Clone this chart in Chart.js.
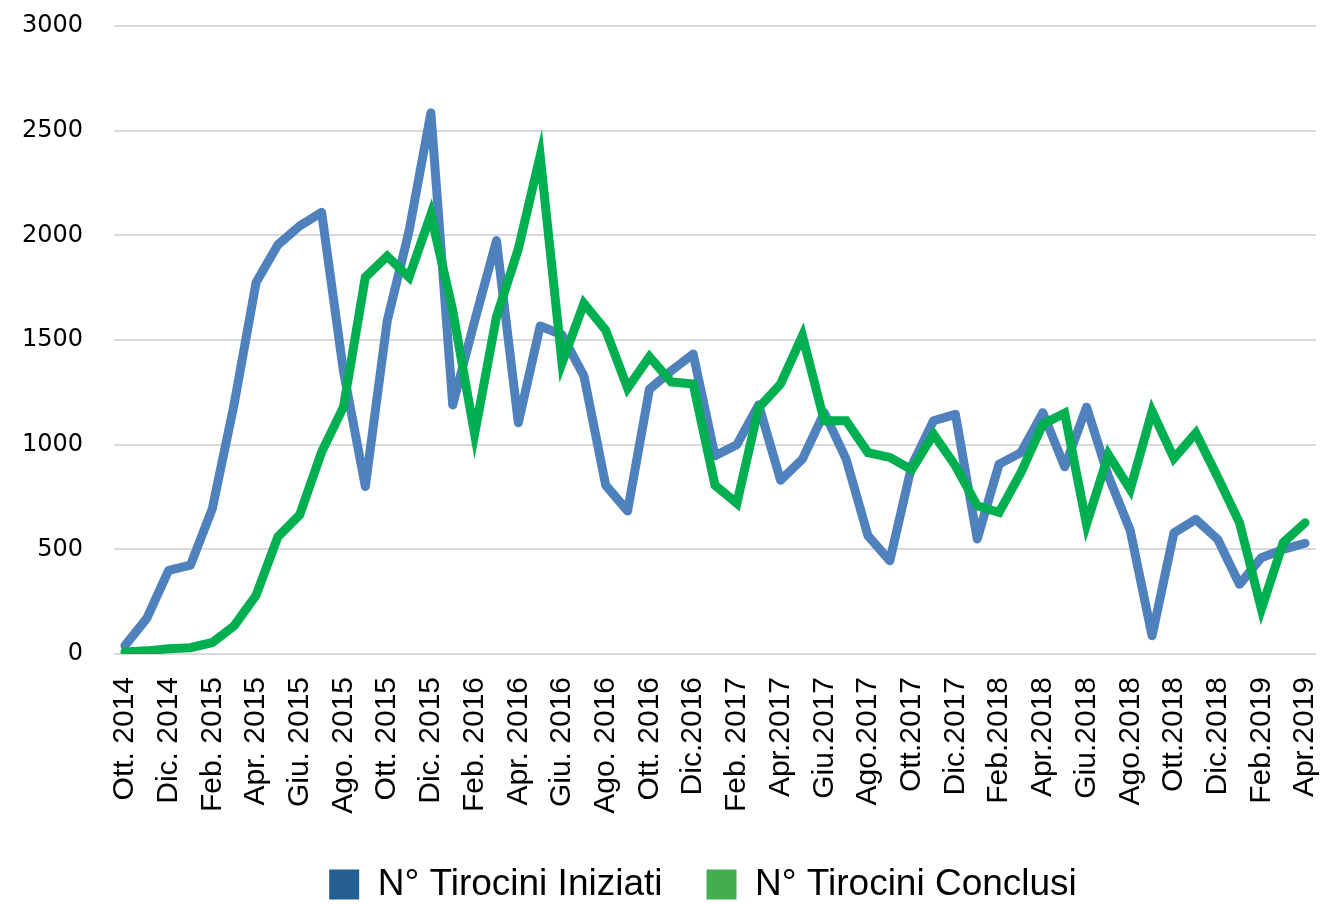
<!DOCTYPE html>
<html>
<head>
<meta charset="utf-8">
<script src="https://cdn.jsdelivr.net/npm/chart.js@4.4.1/dist/chart.umd.min.js"></script>
<style>
  html, body { margin: 0; padding: 0; background: #ffffff; }
  #wrap { width: 1322px; height: 904px; }
</style>
</head>
<body>
<div id="wrap"><canvas id="c" width="1322" height="904"></canvas></div>
<script>
const months = [
  "Ott. 2014","Nov. 2014","Dic. 2014","Gen. 2015","Feb. 2015","Mar. 2015","Apr. 2015","Mag. 2015",
  "Giu. 2015","Lug. 2015","Ago. 2015","Set. 2015","Ott. 2015","Nov. 2015","Dic. 2015","Gen. 2016",
  "Feb. 2016","Mar. 2016","Apr. 2016","Mag. 2016","Giu. 2016","Lug. 2016","Ago. 2016","Set. 2016",
  "Ott. 2016","Nov. 2016","Dic.2016","Gen. 2017","Feb. 2017","Mar.2017","Apr.2017","Mag.2017",
  "Giu.2017","Lug.2017","Ago.2017","Set.2017","Ott.2017","Nov.2017","Dic.2017","Gen.2018",
  "Feb.2018","Mar.2018","Apr.2018","Mag.2018","Giu.2018","Lug.2018","Ago.2018","Set.2018",
  "Ott.2018","Nov.2018","Dic.2018","Gen.2019","Feb.2019","Mar.2019","Apr.2019"
];
const tirociniIniziati = [40,170,400,425,695,1195,1775,1955,2045,2110,1350,800,1590,2020,2585,1190,1590,1975,1105,1567,1525,1329,806,683,1265,1353,1433,947,1000,1190,830,931,1153,931,565,445,899,1114,1145,549,907,962,1153,894,1179,850,590,87,579,643,548,333,460,500,529];
const tirociniConclusi = [10,15,25,30,55,135,280,560,665,965,1180,1800,1900,1800,2100,1640,1050,1610,1935,2380,1390,1675,1547,1270,1420,1300,1290,806,720,1177,1290,1520,1114,1114,962,939,880,1050,899,708,676,867,1098,1150,620,952,786,1160,935,1055,845,627,214,532,627];
const seriesNames = ["N° Tirocini Iniziati", "N° Tirocini Conclusi"];
const yTicks = [0, 500, 1000, 1500, 2000, 2500, 3000];

const lineColors = ["#4F81BD", "#00B050"];
const legendColors = ["#255E91", "#43AE50"];

const legendShift = {
  id: "legendShift",
  afterLayout(chart) { if (chart.legend) { chart.legend.left += 90; } }
};

new Chart(document.getElementById("c"), {
  type: "line",
  plugins: [legendShift],
  data: {
    labels: months,
    datasets: [
      {
        label: seriesNames[0],
        data: tirociniIniziati,
        borderColor: lineColors[0],
        backgroundColor: lineColors[0],
        borderWidth: 9,
        borderJoinStyle: "round",
        borderCapStyle: "round",
        pointRadius: 0,
        tension: 0,
        order: 1
      },
      {
        label: seriesNames[1],
        data: tirociniConclusi,
        borderColor: lineColors[1],
        backgroundColor: lineColors[1],
        borderWidth: 9,
        borderJoinStyle: "miter",
        borderCapStyle: "round",
        pointRadius: 0,
        tension: 0,
        order: 0
      }
    ]
  },
  options: {
    responsive: false,
    animation: false,
    layout: { padding: { top: 26, left: 0, right: 6, bottom: -9 } },
    plugins: {
      tooltip: { enabled: false },
      legend: {
        position: "bottom",
        labels: {
          boxWidth: 30,
          boxHeight: 30,
          padding: 44,
          color: "#000000",
          font: { family: "'Liberation Sans', Arial, sans-serif", size: 37 },
          sort: (a, b) => a.datasetIndex - b.datasetIndex,
          generateLabels: (chart) => chart.data.datasets.map((ds, i) => ({
            text: ds.label,
            fillStyle: legendColors[i],
            strokeStyle: legendColors[i],
            lineWidth: 0,
            hidden: false,
            datasetIndex: i,
            fontColor: "#000000"
          }))
        }
      }
    },
    scales: {
      x: {
        offset: true,
        grid: { display: false, drawTicks: false },
        border: { display: false },
        afterFit: (s) => { s.paddingLeft = 0; s.paddingRight = 0; s.height = 168; },
        ticks: {
          autoSkip: false,
          maxRotation: 90,
          minRotation: 90,
          padding: 23,
          color: "#000000",
          font: { family: "'Liberation Sans', Arial, sans-serif", size: 30 },
          callback: function (v, i) { return i % 2 === 0 ? this.getLabelForValue(v) : ""; }
        }
      },
      y: {
        min: 0,
        max: 3000,
        afterBuildTicks: (axis) => { axis.ticks = yTicks.map(v => ({ value: v })); },
        afterFit: (s) => { s.paddingTop = 0; s.paddingBottom = 0; s.width = 114; },
        grid: { color: "#D9D9D9", lineWidth: 2, drawTicks: false },
        border: { display: false },
        ticks: {
          padding: 31,
          color: "#000000",
          font: { family: "'DejaVu Sans', sans-serif", size: 24 },
          callback: (v) => String(v)
        }
      }
    }
  }
});
</script>
</body>
</html>
